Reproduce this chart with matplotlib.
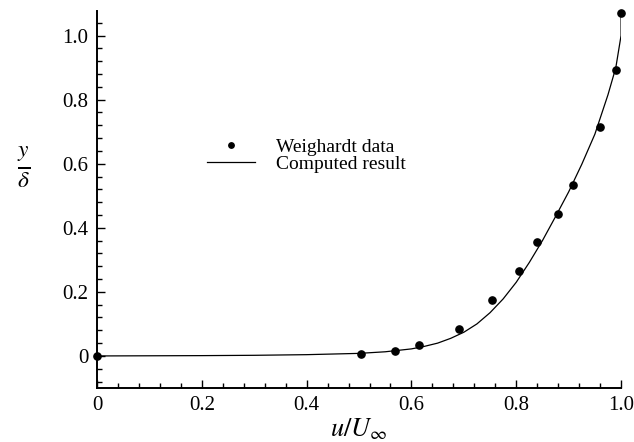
import matplotlib
matplotlib.use("Agg")
import matplotlib.pyplot as plt
from matplotlib.ticker import MultipleLocator, FixedFormatter, FixedLocator

plt.rcParams["font.family"] = ["Liberation Serif", "DejaVu Serif"]
plt.rcParams["mathtext.fontset"] = "stix"

# --- Weighardt data --- #
data_u = [0.0, 0.503, 0.569, 0.615, 0.690, 0.754, 0.805, 0.840, 0.880, 0.908, 0.959, 0.990, 1.0]
data_y = [0.0, 0.007, 0.014, 0.033, 0.085, 0.176, 0.265, 0.355, 0.444, 0.535, 0.713, 0.892, 1.071]

# --- Computed result --- #
calc_u = [0.0, 0.2, 0.3, 0.4, 0.45, 0.5, 0.55, 0.6, 0.625, 0.65, 0.675, 0.7, 0.725, 0.75,
          0.775, 0.8, 0.825, 0.85, 0.875, 0.9, 0.925, 0.95, 0.975, 0.99, 1.0, 1.0]
calc_y = [0.0, 0.001, 0.002, 0.004, 0.006, 0.008, 0.013, 0.022, 0.030, 0.040, 0.055, 0.074,
          0.100, 0.135, 0.178, 0.230, 0.292, 0.360, 0.435, 0.512, 0.598, 0.692, 0.815, 0.900,
          1.0, 1.071]

xticks = [0, 0.2, 0.4, 0.6, 0.8, 1.0]
xlabels = ["0", "0.2", "0.4", "0.6", "0.8", "1.0"]
yticks = [0, 0.2, 0.4, 0.6, 0.8, 1.0]
ylabels = ["0", "0.2", "0.4", "0.6", "0.8", "1.0"]

fig = plt.figure(figsize=(6.34, 4.42), dpi=100)
ax = fig.add_axes([0.153, 0.1222, 0.8266, 0.854])

ax.plot(data_u, data_y, "o", color="black", markersize=5.2, clip_on=False, label="Weighardt data")
ax.plot(calc_u, calc_y, "-", color="black", linewidth=0.9, label="Computed result")

ax.set_xlim(0, 1.0)
ax.set_ylim(-0.1, 1.078)

ax.spines["top"].set_visible(False)
ax.spines["right"].set_visible(False)
ax.spines["left"].set_linewidth(1.4)
ax.spines["bottom"].set_linewidth(1.4)

ax.xaxis.set_major_locator(FixedLocator(xticks))
ax.xaxis.set_major_formatter(FixedFormatter(xlabels))
ax.yaxis.set_major_locator(FixedLocator(yticks))
ax.yaxis.set_major_formatter(FixedFormatter(ylabels))
ax.xaxis.set_minor_locator(MultipleLocator(0.04))
ax.yaxis.set_minor_locator(MultipleLocator(0.04))
ax.tick_params(which="both", direction="in", width=1.0, labelsize=15, pad=6)
ax.tick_params(which="major", length=6)
ax.tick_params(which="minor", length=3.5)

ax.set_xlabel(r"$u/U_\infty$", fontsize=19, labelpad=1)
ax.set_ylabel(r"$\frac{y}{\delta}$", fontsize=24, rotation=0)
ax.yaxis.set_label_coords(-0.14, 0.525)

ax.legend(loc="upper left", bbox_to_anchor=(0.191, 0.688), frameon=False, fontsize=14,
          handlelength=2.5, handletextpad=1.05, labelspacing=0.0, borderpad=0,
          markerscale=0.75)

fig.savefig("out.png", dpi=100)
